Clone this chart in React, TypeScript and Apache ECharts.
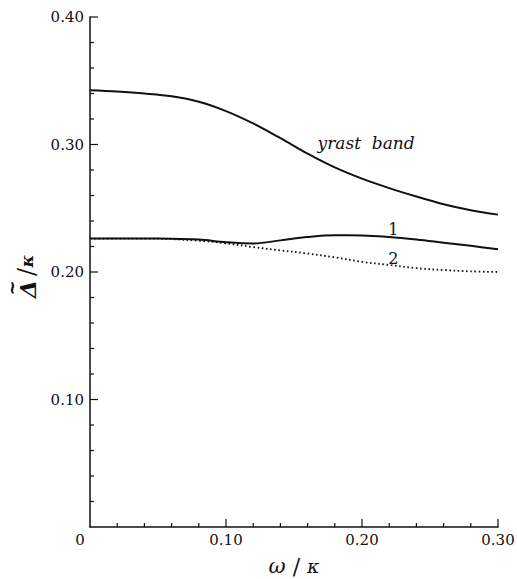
import React, { useEffect, useRef } from "react";
import * as echarts from "echarts";

const omega = [0, 0.02, 0.04, 0.06, 0.08, 0.1, 0.12, 0.14, 0.16, 0.18, 0.2, 0.22, 0.24, 0.26, 0.28, 0.3];
const yrast = [0.3425, 0.3415, 0.34, 0.3378, 0.3335, 0.3262, 0.3165, 0.305, 0.2928, 0.282, 0.2732, 0.2658, 0.2592, 0.2532, 0.2485, 0.245];
const band1 = [0.2262, 0.2262, 0.2262, 0.2261, 0.2254, 0.2234, 0.2224, 0.2248, 0.2274, 0.2288, 0.2287, 0.2275, 0.2255, 0.223, 0.2205, 0.2178];
const band2 = [0.2262, 0.2262, 0.2262, 0.2258, 0.2245, 0.2225, 0.2195, 0.217, 0.2145, 0.2115, 0.208, 0.2055, 0.203, 0.2015, 0.2005, 0.2];

const xMajorTicks = [0.1, 0.2, 0.3];
const xMinorTicks = [0.02, 0.04, 0.06, 0.08, 0.12, 0.14, 0.16, 0.18, 0.22, 0.24, 0.26, 0.28];
const yMajorTicks = [0.1, 0.2, 0.3, 0.4];
const yMinorTicks = [0.02, 0.04, 0.06, 0.08, 0.12, 0.14, 0.16, 0.18, 0.22, 0.24, 0.26, 0.28, 0.32, 0.34, 0.36, 0.38];

const labelYrast = { text: "yrast  band", coord: [0.203, 0.301] };
const label1 = { text: "1", coord: [0.223, 0.2335] };
const label2 = { text: "2", coord: [0.223, 0.2105] };

const FONT = "DejaVu Serif, Liberation Serif, serif";
const INK = "#111";

const pairs = (ys: number[]) => omega.map((x, i) => [x, ys[i]]);

const tickData = [
  ...xMajorTicks.map((v) => [v, 0, 1]),
  ...xMinorTicks.map((v) => [v, 0, 0]),
  ...yMajorTicks.map((v) => [v, 1, 1]),
  ...yMinorTicks.map((v) => [v, 1, 0]),
];

const mark = (l: { text: string; coord: number[] }, italic: boolean, size: number) => ({
  silent: true,
  symbol: "circle",
  symbolSize: 0,
  itemStyle: { color: INK },
  data: [
    {
      coord: l.coord,
      label: {
        show: true,
        position: "inside",
        formatter: l.text,
        color: INK,
        fontFamily: FONT,
        fontSize: size,
        fontStyle: italic ? "italic" : "normal",
      },
    },
  ],
});

export default function App() {
  const ref = useRef<HTMLDivElement>(null);
  useEffect(() => {
    if (!ref.current) return;
    const chart = echarts.init(ref.current, null, { renderer: "svg" });
    chart.setOption({
      animation: false,
      backgroundColor: "#fff",
      grid: { left: 90, right: 19, top: 17, bottom: 52, containLabel: false, outerBoundsMode: "none" },
      xAxis: {
        type: "value",
        min: 0,
        max: 0.3,
        interval: 0.1,
        axisLine: { show: true, lineStyle: { color: INK, width: 1.5 } },
        axisTick: { show: false },
        splitLine: { show: false },
        axisLabel: {
          margin: 5,
          color: INK,
          fontFamily: FONT,
          fontSize: 15,
          formatter: (v: number) => (v === 0 ? "{z|0}" : v.toFixed(2)),
          rich: { z: { fontFamily: FONT, fontSize: 15, color: INK, padding: [0, 20, 0, 0] } },
        },
        name: "{w|ω}{s| / }{k|κ}",
        nameLocation: "middle",
        nameGap: 28,
        nameTextStyle: {
          lineHeight: 22,
          rich: {
            w: { fontFamily: FONT, fontSize: 21, fontStyle: "italic", color: INK, lineHeight: 22 },
            s: { fontFamily: FONT, fontSize: 22, color: INK, lineHeight: 22 },
            k: { fontFamily: FONT, fontSize: 19, fontStyle: "italic", color: INK, lineHeight: 22 },
          },
        },
      },
      yAxis: {
        type: "value",
        min: 0,
        max: 0.4,
        interval: 0.1,
        axisLine: { show: true, lineStyle: { color: INK, width: 1.5 } },
        axisTick: { show: false },
        splitLine: { show: false },
        axisLabel: {
          margin: 6,
          color: INK,
          fontFamily: FONT,
          fontSize: 15,
          formatter: (v: number) => (v === 0 ? "" : v.toFixed(2)),
        },
      },
      graphic: [
        {
          type: "group",
          x: 27,
          y: 276,
          rotation: Math.PI / 2,
          silent: true,
          children: [
            {
              type: "text",
              x: -13,
              y: 0,
              style: {
                text: "Δ",
                fontFamily: FONT,
                fontSize: 23,
                fontStyle: "italic",
                fontWeight: "bold",
                fill: INK,
                align: "center",
                verticalAlign: "middle",
              },
            },
            {
              type: "text",
              x: -12,
              y: -16,
              style: {
                text: "~",
                fontFamily: FONT,
                fontSize: 18,
                fontWeight: "bold",
                fill: INK,
                align: "center",
                verticalAlign: "middle",
              },
            },
            {
              type: "text",
              x: 4,
              y: 0,
              style: {
                text: "/",
                fontFamily: FONT,
                fontSize: 24,
                fill: INK,
                align: "center",
                verticalAlign: "middle",
              },
            },
            {
              type: "text",
              x: 15,
              y: 0,
              style: {
                text: "κ",
                fontFamily: FONT,
                fontSize: 17,
                fontStyle: "italic",
                fontWeight: "bold",
                fill: INK,
                align: "center",
                verticalAlign: "middle",
              },
            },
          ],
        },
      ],
      series: [
        {
          type: "line",
          data: pairs(yrast),
          smooth: 0.35,
          showSymbol: false,
          lineStyle: { color: INK, width: 2 },
          markPoint: mark(labelYrast, true, 17),
        },
        {
          type: "line",
          data: pairs(band1),
          smooth: 0.35,
          showSymbol: false,
          lineStyle: { color: INK, width: 2 },
          markPoint: mark(label1, false, 16),
        },
        {
          type: "line",
          data: pairs(band2),
          smooth: 0.35,
          showSymbol: false,
          lineStyle: { color: INK, width: 1.8, type: [1.6, 2.6] },
          markPoint: mark(label2, false, 16),
        },
        {
          type: "custom",
          silent: true,
          clip: false,
          z: 5,
          data: tickData,
          renderItem: (params: any, api: any) => {
            const v = api.value(0);
            const isY = api.value(1) === 1;
            const len = api.value(2) === 1 ? 8 : 4;
            if (isY) {
              const p = api.coord([0, v]);
              return {
                type: "line",
                shape: { x1: p[0], y1: p[1], x2: p[0] + len, y2: p[1] },
                style: { stroke: INK, lineWidth: 1.2 },
              };
            }
            const p = api.coord([v, 0]);
            return {
              type: "line",
              shape: { x1: p[0], y1: p[1], x2: p[0], y2: p[1] - len },
              style: { stroke: INK, lineWidth: 1.2 },
            };
          },
        },
      ],
    });
    return () => chart.dispose();
  }, []);
  return (
    <div
      ref={ref}
      style={{ position: "fixed", left: 0, top: 0, width: 517, height: 579, background: "#fff" }}
    />
  );
}
